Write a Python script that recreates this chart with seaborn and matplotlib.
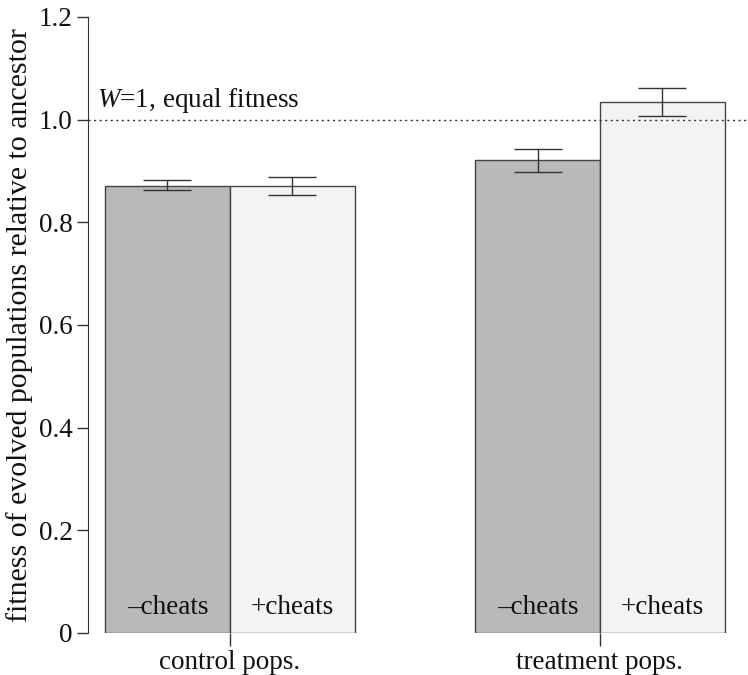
import pandas as pd
import numpy as np
import matplotlib
matplotlib.use("Agg")
import matplotlib.pyplot as plt
import seaborn as sns

# values
groups = ["control pops.", "control pops.", "treatment pops.", "treatment pops."]
cheats = ["\u2013cheats", "+cheats", "\u2013cheats", "+cheats"]
fitness = [0.871, 0.871, 0.921, 1.034]
err_low = [0.863, 0.853, 0.899, 1.007]
err_high = [0.882, 0.889, 0.943, 1.062]

df = pd.DataFrame({"group": groups, "cheats": cheats, "fitness": fitness,
                   "lo": err_low, "hi": err_high})

sns.set_style("ticks")
plt.rcParams["font.family"] = ["Liberation Serif", "DejaVu Serif"]
plt.rcParams["mathtext.fontset"] = "custom"
plt.rcParams["mathtext.rm"] = "Liberation Serif"
plt.rcParams["mathtext.it"] = "Liberation Serif:italic"

fs = 19.5

fig = plt.figure(figsize=(7.48, 6.75), dpi=100)
ax = fig.add_axes([88 / 748, 42 / 675, 660 / 748, 616 / 675])

sns.barplot(data=df, x="group", y="fitness", hue="cheats",
            palette=["#b9b9b9", "#f3f3f3"], width=0.674, errorbar=None,
            edgecolor="#444444", linewidth=1.0, legend=False, ax=ax)

# error bars and in-bar labels, positioned from the drawn bars
bars = sorted(ax.patches, key=lambda p: p.get_x())
for bar, (_, row) in zip(bars, df.iterrows()):
    cx = bar.get_x() + bar.get_width() / 2
    ax.errorbar([cx], [row["fitness"]],
                yerr=[[row["fitness"] - row["lo"]], [row["hi"] - row["fitness"]]],
                fmt="none", ecolor="#333333", elinewidth=1.0, capsize=17,
                capthick=1.0)
    ax.text(cx, 0.05, row["cheats"], ha="center", va="center", fontsize=fs,
            color="#111111")

ax.axhline(1.0, color="#333333", linestyle=(0, (1.5, 2.5)), linewidth=1.0)
ax.text(-0.36, 1.037, r"$W$=$\mathit{1}$, equal fitness", fontsize=fs,
        ha="left", va="center", color="#111111")

ax.set_ylim(0, 1.2)
ax.set_xlim(-0.383, 1.40)
ax.set_yticks([0, 0.2, 0.4, 0.6, 0.8, 1.0, 1.2])
ax.set_yticklabels(["0", "0.2", "0.4", "0.6", "0.8", "1.0", "1.2"])
ax.set_xlabel("")
ax.set_ylabel("fitness of evolved populations relative to ancestor",
              fontsize=21.5, color="#111111", labelpad=4)

for s in ["top", "right", "bottom"]:
    ax.spines[s].set_visible(False)
ax.spines["left"].set_color("#333333")
ax.tick_params(axis="y", direction="out", length=8, width=1.0,
               colors="#333333", labelcolor="#111111", labelsize=fs, pad=3)
ax.tick_params(axis="x", direction="out", length=9, width=1.0,
               colors="#333333", labelcolor="#111111", labelsize=fs, pad=3)

fig.savefig("out.png", dpi=100)
